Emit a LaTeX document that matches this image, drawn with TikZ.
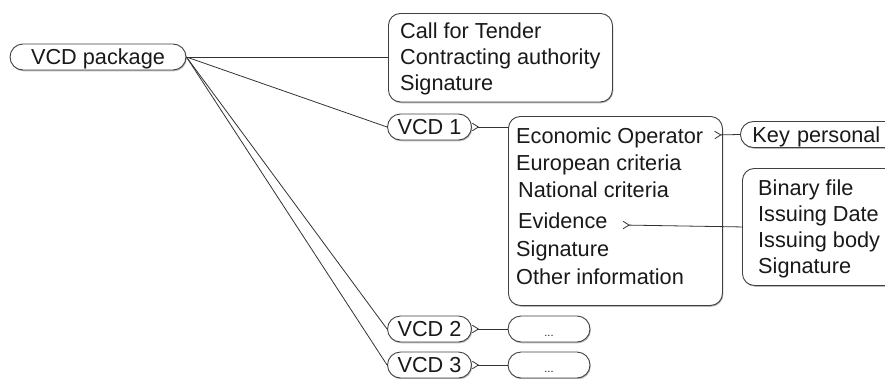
\documentclass[tikz,border=0pt]{standalone}
\usepackage{fontspec}
\setmainfont{Liberation Sans}
\usetikzlibrary{arrows.meta,shadows,calc}

\begin{document}
\begin{tikzpicture}[x=1pt,y=-1pt,
  shade/.style={drop shadow={shadow xshift=0.8pt,shadow yshift=-1.3pt,fill=black!50,opacity=0.55}},
  frame/.style={draw=black!75,line width=0.9pt,fill=white,rounded corners=12pt,inner sep=0pt,shade},
  pill/.style={draw=black!75,line width=0.9pt,fill=white,rounded corners=13pt,inner sep=0pt,
    minimum height=26pt,text height=15.6pt,text depth=0pt,shade,
    font=\fontsize{21.7}{26}\selectfont,text=black!90},
  item/.style={inner sep=0pt,anchor=base west,font=\fontsize{21.7}{26}\selectfont,text=black!90},
  link/.style={draw=black!80,line width=0.8pt},
  chev/.style={link,{Straight Barb[reversed,length=6pt,width=7.5pt,line width=0.8pt]}-}
]
\useasboundingbox (0,0) rectangle (885,378);
\clip (0,0) rectangle (885,378);

% root of the tree
\node[pill,minimum width=176pt] (pkg) at (98,57) {VCD package};

% header information block
\node[frame,anchor=north west,minimum width=224pt,minimum height=88.5pt] (call) at (388,13) {};
\node[item] (cft) at (400,38.5) {Call for Tender};
\node[item] (ca)  at (400,64.5) {Contracting authority};
\node[item] (sig) at (400,90.5) {Signature};

% the individual VCD documents
\node[pill,minimum width=84pt] (vcd1) at (429.5,127) {VCD 1};
\node[pill,minimum width=84pt] (vcd2) at (429.5,329) {VCD 2};
\node[pill,minimum width=84pt] (vcd3) at (429.5,365) {VCD 3};

% content of VCD 1
\node[frame,anchor=north west,minimum width=214pt,minimum height=189pt] (content) at (508,116) {};
\node[item] (eo)  at (516,143) {Economic Operator};
\node[item] (euc) at (516,170) {European criteria};
\node[item] (nac) at (518,197) {National criteria};
\node[item] (ev)  at (518,228) {Evidence};
\node[item] (vs)  at (516,256) {Signature};
\node[item] (oi)  at (516,284) {Other information};

% placeholders for the other documents
\node[pill,minimum width=82pt,font=\fontsize{11}{13}\selectfont] (more2) at (549,329) {...};
\node[pill,minimum width=82pt,font=\fontsize{11}{13}\selectfont] (more3) at (549,365) {...};

% detail nodes
\node[pill,anchor=west,minimum width=160pt,align=left,text width=136pt,inner xsep=12pt] (key) at (740,134.5) {Key personal};
\node[frame,anchor=north west,minimum width=200pt,minimum height=117pt] (bin) at (742,168) {};
\node[item] (bf) at (758,195) {Binary file};
\node[item] (id) at (758,221) {Issuing Date};
\node[item] (ib) at (758,247) {Issuing body};
\node[item] (bs) at (758,273) {Signature};

\coordinate (eoTip) at ($(eo.base east)+(11,-8)$);
\coordinate (evTip) at ($(ev.base east)+(15,-3)$);

% connectors
\draw[link] (pkg.east) -- (pkg.east -| call.west);
\draw[link] (pkg.east) -- (vcd1.west);
\draw[link] (pkg.east) -- (vcd2.west);
\draw[link] (pkg.east) -- (vcd3.west);
\draw[chev] (vcd1.east) -- (vcd1.east -| content.west);
\draw[chev] (vcd2.east) -- (more2.west);
\draw[chev] (vcd3.east) -- (more3.west);
\draw[chev] (eoTip) -- (key.west);
\draw[chev] (evTip) -- (bin.west);
\end{tikzpicture}
\end{document}
